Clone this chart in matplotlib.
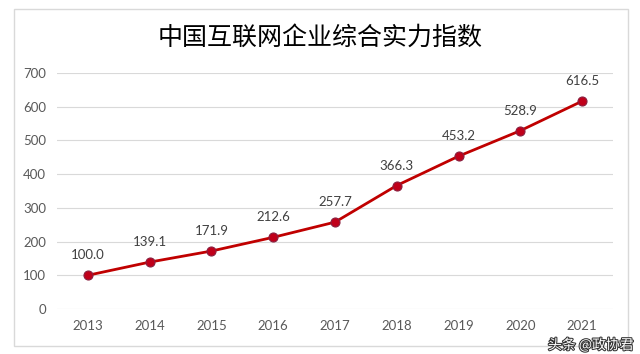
import matplotlib.pyplot as plt
import matplotlib.patheffects as pe
from matplotlib.patches import Rectangle

years = ['2013', '2014', '2015', '2016', '2017', '2018', '2019', '2020', '2021']
values = [100.0, 139.1, 171.9, 212.6, 257.7, 366.3, 453.2, 528.9, 616.5]

fig = plt.figure(figsize=(6.4, 3.54), dpi=100)
fig.patch.set_facecolor('white')

# chart frame behind everything
frame = Rectangle((14 / 640, 8 / 354), 614 / 640, 337 / 354,
                  transform=fig.transFigure, fill=True,
                  facecolor='white', edgecolor='#d9d9d9', lw=1, zorder=-5)
fig.patches.append(frame)

ax = fig.add_axes([57 / 640, 45 / 354, 556 / 640, 236 / 354])
ax.set_facecolor('none')

x = list(range(len(values)))
ax.plot(x, values, color='#c00000', lw=2, zorder=3,
        marker='o', markersize=6.5, markerfacecolor='#c0001a',
        markeredgecolor='#8a2040', markeredgewidth=0.8)

for xi, v in zip(x, values):
    ax.annotate(f'{v:.1f}', (xi, v), xytext=(0, 10), textcoords='offset points',
                ha='center', va='bottom', fontsize=9.5, color='#404040',
                family=['Lato', 'DejaVu Sans'])

ax.set_xlim(-0.5, len(values) - 0.5)
ax.set_ylim(0, 700)
ax.set_yticks(range(0, 701, 100))
ax.set_xticks(x)
ax.set_xticklabels(years)
ax.grid(axis='y', color='#d9d9d9', lw=0.8)
ax.set_axisbelow(True)
for s in ax.spines.values():
    s.set_visible(False)
ax.tick_params(length=0, labelsize=9.5, labelcolor='#595959', pad=8)
for lab in ax.get_xticklabels() + ax.get_yticklabels():
    lab.set_family(['Lato', 'DejaVu Sans'])

fig.text(0.5, 1 - 38 / 354, '中国互联网企业综合实力指数', ha='center', va='center',
         fontsize=18, color='black', family=['Noto Sans CJK SC', 'DejaVu Sans'])

fig.text(0.99, 0.005, '头条 @政协君', ha='right', va='bottom', fontsize=10,
         color='white', family=['Noto Sans CJK SC', 'DejaVu Sans'],
         path_effects=[pe.withStroke(linewidth=1.5, foreground='#333333')])

fig.savefig('out.png', dpi=100)
